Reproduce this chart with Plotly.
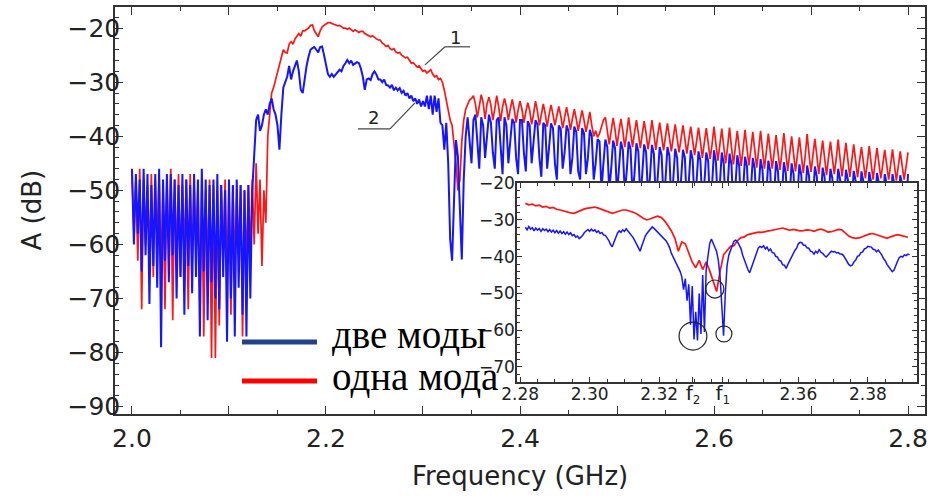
import numpy as np
import plotly.graph_objects as go

# ---------------- main spectrum data (GHz grid start/step, values in dB) -------------
MAIN_F_START = 2.0
MAIN_F_STEP = 0.002

blue_main = [
    -46,-60,-47,-58,-48,-65,-46,-62,-47,-71,
    -49,-64,-47,-68,-46,-79,-48,-63,-47,-67,
    -47,-62,-48,-70,-49,-66,-47,-73,-48,-64,
    -49,-69,-47,-66,-48,-77,-46,-65,-48,-74,
    -49,-67,-48,-70,-47,-72,-49,-66,-50,-78,
    -48,-70,-49,-77,-48,-68,-49,-73,-50,-77,
    -49,-70,-50,-44,-37,-36,-39,-38,-36,-35,
    -36,-34,-33,-35,-36,-38,-42.5,-36,-31,-30,
    -29,-27,-29.5,-28,-27,-26,-28,-31.4,-32,-29,
    -27,-25.3,-24,-23.7,-23.5,-24,-24.5,-23.5,-23.4,-25,
    -26.5,-28.5,-29,-28.5,-29,-28.5,-28,-27.7,-28,-27,
    -26.5,-25.9,-26.5,-26,-26.8,-26.5,-26.3,-26.5,-27.5,-29,
    -31.4,-29.5,-29.3,-29.6,-28.5,-28,-28.6,-29.5,-29.5,-30,
    -29.5,-30.5,-30.6,-31,-30.5,-31.5,-31,-31.5,-31.1,-32,
    -31.6,-32.5,-32,-33,-32.5,-33.5,-33,-34,-33.2,-34.5,
    -33.5,-34.5,-32.5,-35,-32.5,-36,-32.5,-35.5,-33,-37.5,
    -38,-42.5,-37.5,-45,-59,-63,-50,-40.7,-43.8,-55,
    -62.8,-48,-40,-36.5,-41,-45,-37,-36,-41,-46,
    -36.5,-38,-44,-40,-36,-37.5,-43,-46,-37,-36.5,
    -42,-47,-36.5,-38,-45,-40,-36.8,-37.5,-44,-47,
    -37,-37,-43,-46.5,-37.2,-38,-45,-41,-37,-37.8,
    -44,-47.5,-37.5,-38,-46,-42,-37.6,-38.5,-45,-48,
    -38,-38.6,-46,-43,-38,-39,-47,-44,-38.2,-39.2,
    -46.5,-48,-38.5,-39.5,-47,-44,-38.8,-40,-48,-45,
    -40.5,-41,-50,-45,-40.6,-42,-50,-46,-40.8,-42.2,
    -51,-46,-41,-42.5,-50.5,-46.5,-41,-42.4,-51,-47,
    -41.3,-42.8,-51.5,-47,-41.5,-43,-51,-47.5,-41.6,-43.2,
    -52,-47.5,-42,-43.5,-52,-48,-42,-43.6,-52.5,-48,
    -42.3,-44,-52,-48.2,-42.5,-44,-53,-48.5,-42.6,-44.3,
    -53,-48.5,-42.8,-44.5,-53,-49,-43,-44.6,-53.5,-49,
    -42.6,-44.8,-53,-49,-43,-45,-53.5,-49.5,-43.2,-45.2,
    -54,-49.5,-43.5,-45.5,-54,-50,-43.8,-45.6,-54,-50,
    -44,-46,-54.5,-50,-44.2,-46.2,-54,-50.5,-44.5,-46.5,
    -55,-50.5,-44.6,-46.6,-55,-51,-44.8,-46.8,-55,-51,
    -45,-47,-55.5,-51,-45.2,-47.2,-55,-51.5,-45.4,-47.4,
    -56,-51.5,-45.6,-47.5,-56,-52,-45.8,-47.6,-56,-52,
    -46,-47.8,-56.5,-52,-46,-48,-56,-52.5,-46.2,-48,
    -57,-52.5,-46.4,-48.2,-57,-53,-46.5,-48.4,-57,-53,
    -46.6,-48.5,-57.5,-53,-46.8,-48.6,-57,-53.5,-47,-48.8,
    -58,-53.5,-47,-49,-58,-54,-47.2,-49,-58,-54,
    -47,
]

red_main = [
    -47,-58,-48,-63,-46,-72,-48,-60,-49,-62,
    -47,-66,-48,-60,-47,-65,-49,-72,-48,-61,
    -46,-74,-48,-63,-47,-66,-49,-61,-48,-72,
    -47,-64,-48,-62,-49,-71,-48,-77,-50,-64,
    -48,-81,-49,-81,-50,-75,-49,-63,-48,-66,
    -50,-73,-49,-64,-50,-62,-49,-77,-50,-64,
    -49,-62,-48,-60,-45,-58,-48,-64,-50,-56,
    -40,-36,-32,-31,-29.5,-28.5,-27,-25.5,-24,-24.5,
    -24.6,-23,-22.5,-23,-22,-21.5,-21,-21.5,-20.5,-20.5,
    -20.2,-20,-19.5,-19.4,-20.5,-21,-21.6,-20.5,-19.8,-19.5,
    -19.2,-19,-19,-19.2,-19.3,-19.4,-19.6,-19.5,-19.8,-20,
    -20,-20.2,-20,-20.4,-20.6,-20.3,-20.5,-20.8,-20.6,-20.6,
    -21,-21.2,-21.4,-21.6,-21.4,-21.8,-22,-22.2,-22.2,-22.8,
    -23,-23.4,-23.2,-23.8,-24,-23.8,-24.4,-24.6,-24.5,-25,
    -25.3,-25.5,-25.4,-26,-26.5,-26.4,-26.8,-27.2,-27,-27.6,
    -28,-27.8,-28.3,-28,-27.7,-28.5,-29,-28.8,-29.5,-29.3,
    -30,-31.5,-33.5,-35,-37,-38,-41,-45,-50,-48,
    -41,-37,-35,-34,-33.3,-33,-32.5,-34,-36.5,-34.5,
    -32.3,-33.8,-36.8,-34,-32.8,-34.2,-37,-35,-32.5,-34.5,
    -37.2,-34.6,-33,-34.5,-37,-35,-33.2,-35,-37.5,-35.2,
    -33.5,-35,-37.5,-35.5,-33.8,-35.2,-37.8,-35.8,-33.5,-35.4,
    -38,-36,-34,-35.8,-38.2,-36,-34.2,-36,-38,-36.2,
    -34.5,-36.2,-38.5,-36.5,-34.6,-36.5,-38.8,-36.8,-35,-36.8,
    -39,-37,-35.2,-37,-39.2,-37.5,-35.5,-38,-40,-39,
    -40.2,-39.5,-38,-37,-36.5,-39,-41.5,-39,-36.6,-38.8,
    -41.8,-39.2,-36.8,-39,-42,-39.5,-36.5,-39.2,-42,-39.4,
    -37,-39.4,-42.2,-39.6,-37.2,-39.5,-42.4,-40,-37,-39.6,
    -42.5,-39.8,-37.5,-40,-42.6,-40,-37.6,-40.2,-42.8,-40.2,
    -37.8,-40.4,-43,-40.5,-38,-40.5,-43.2,-40.6,-38.2,-40.8,
    -43.5,-41,-38.4,-41,-44,-41.2,-38.5,-41.2,-44.2,-41.5,
    -38.2,-41.5,-44.5,-41.6,-38.6,-41.8,-45,-42,-38.4,-42,
    -45.2,-42,-39,-42.2,-45.5,-42.3,-38.8,-42.2,-45.4,-42.4,
    -39.2,-42.5,-45.8,-42.6,-39,-42.5,-46,-42.8,-39.5,-42.8,
    -46,-43,-39.8,-43,-46.2,-43,-39.4,-43,-46.4,-43.2,
    -40,-43.2,-46.5,-43.4,-40.2,-43.5,-46.8,-43.6,-39.6,-43.4,
    -46.6,-43.5,-40.5,-43.6,-47,-43.8,-40.8,-44,-47.2,-44,
    -41,-44,-47,-44.2,-40.6,-44.2,-47.4,-44.2,-41.2,-44.4,
    -47.5,-44.5,-41.5,-44.5,-47.6,-44.6,-42,-44.8,-47.8,-45,
    -41.8,-45,-48,-45,-42.2,-45,-47.8,-45.2,-42.5,-45.2,
    -48,-45.4,-42.4,-45.4,-48.2,-45.5,-42.8,-45.5,-48,-45.6,
    -43,
]

# ---------------- inset data -------------
INSET_RED_START = 2.2815
INSET_RED_STEP = 0.001
red_inset = [
    -25.5,-25.9,-25.7,-26.2,-26.0,-26.5,-26.3,-26.8,-26.6,-27.1,
    -27.3,-27.6,-27.9,-28.1,-28.2,-27.8,-27.3,-27.0,-26.8,-26.6,
    -26.5,-26.8,-27.2,-27.5,-27.8,-28.2,-27.9,-27.5,-27.3,-27.3,
    -27.5,-27.9,-28.3,-29.0,-29.6,-30.0,-29.6,-29.2,-29.0,-29.3,
    -30.2,-31.5,-33.0,-35.0,-38.5,-36.0,-36.5,-39.0,-41.5,-43.0,
    -41.0,-43.5,-41.5,-43.8,-46.5,-49.5,-44.0,-39.5,-38.3,-37.2,
    -37.0,-35.6,-34.8,-34.6,-34.0,-33.8,-33.6,-33.3,-33.4,-33.1,
    -33.0,-32.8,-32.6,-32.3,-32.2,-32.5,-32.8,-32.6,-32.9,-33.0,
    -32.9,-32.7,-32.8,-33.1,-32.7,-32.5,-32.8,-33.3,-33.2,-32.9,
    -32.6,-32.7,-33.5,-34.4,-34.8,-35.0,-34.9,-34.5,-34.0,-33.8,
    -33.7,-34.0,-34.5,-34.8,-35.0,-34.6,-34.2,-34.0,-34.2,-34.5,-34.7,
]

INSET_BLUE_START = 2.2815
INSET_BLUE_STEP = 0.0005
blue_inset = [
    -32.0,-32.7,-31.8,-32.5,-32.1,-33.0,-32.2,-32.8,-32.3,-33.1,
    -32.4,-32.9,-32.5,-33.2,-32.6,-33.3,-32.8,-33.5,-32.9,-33.6,
    -33.0,-33.7,-33.2,-33.9,-33.3,-34.0,-33.5,-34.3,-34.0,-34.7,
    -34.4,-35.1,-34.7,-34.2,-33.4,-33.1,-32.6,-33.1,-32.5,-33.0,
    -32.7,-33.4,-33.0,-33.7,-33.4,-34.1,-34.2,-34.9,-35.6,-36.7,
    -37.3,-36.0,-34.6,-33.6,-33.0,-33.4,-32.7,-33.1,-32.4,-33.0,
    -33.3,-34.1,-34.8,-35.7,-36.6,-37.9,-38.5,-37.0,-35.6,-34.4,
    -33.6,-33.0,-32.4,-31.9,-32.3,-32.8,-33.3,-33.8,-34.3,-34.8,
    -35.3,-35.7,-36.6,-37.6,-39.1,-40.0,-41.3,-42.0,-42.9,-44.0,
    -45.5,-49.0,-46.0,-52.0,-47.5,-58.5,-48.0,-62.5,-55.0,-62.8,
    -50.0,-61.0,-45.0,-60.5,-43.5,-40.0,-36.5,-35.2,-36.4,-37.6,
    -38.6,-41.0,-45.5,-53.5,-61.5,-50.0,-42.5,-39.6,-38.0,-37.0,
    -35.8,-35.5,-35.9,-36.8,-37.8,-39.6,-41.0,-42.7,-43.5,-44.4,
    -43.0,-41.4,-40.0,-39.0,-37.6,-37.2,-37.5,-37.0,-37.9,-37.4,
    -38.4,-37.9,-38.9,-39.0,-39.9,-40.1,-41.0,-41.2,-42.2,-42.3,
    -43.2,-42.1,-41.1,-40.1,-39.3,-38.3,-37.7,-36.5,-36.1,-36.2,
    -36.9,-36.9,-37.6,-37.7,-38.5,-38.7,-39.3,-38.5,-39.0,-38.1,
    -38.8,-39.1,-39.7,-40.1,-39.6,-38.9,-38.5,-38.7,-38.6,-39.0,
    -38.9,-39.3,-39.3,-39.7,-40.6,-41.1,-42.1,-42.5,-42.3,-41.4,
    -40.9,-39.9,-39.7,-38.9,-38.7,-37.9,-37.7,-37.2,-37.2,-37.4,
    -38.0,-38.1,-38.7,-38.2,-38.9,-39.5,-40.5,-41.1,-42.1,-42.7,
    -43.6,-44.1,-43.7,-42.3,-41.3,-40.3,-39.9,-40.1,-39.5,-39.7,
    -39.3,-39.5,
]

# tick labels
main_x_ticks = [2.0, 2.1, 2.2, 2.3, 2.4, 2.5, 2.6, 2.7, 2.8]
main_x_labels = ["2.0", "", "2.2", "", "2.4", "", "2.6", "", "2.8"]
main_y_ticks = [-90, -80, -70, -60, -50, -40, -30, -20]
inset_x_ticks = [2.28, 2.30, 2.32, 2.3297, 2.3383, 2.36, 2.38]
inset_x_labels = ["2.28", "2.30", "2.32",
                  "<span style='font-size:20px'>f</span><sub>2</sub>",
                  "<span style='font-size:20px'>f</span><sub>1</sub>", "2.36", "2.38"]
inset_y_ticks = [-70, -60, -50, -40, -30, -20]
legend_labels = ["две моды", "одна мода"]

RED = "#ff1515"
BLUE = "#1515ff"
FRAME = "#333333"
TXT = "#222222"
FONT = "DejaVu Sans"


def grid(start, step, n):
    return start + step * np.arange(n)


fig = go.Figure()
fig.add_trace(go.Scatter(x=grid(MAIN_F_START, MAIN_F_STEP, len(red_main)), y=red_main,
                         mode="lines", line=dict(color=RED, width=1.7), showlegend=False))
fig.add_trace(go.Scatter(x=grid(MAIN_F_START, MAIN_F_STEP, len(blue_main)), y=blue_main,
                         mode="lines", line=dict(color=BLUE, width=2.0), showlegend=False))
fig.add_trace(go.Scatter(x=grid(INSET_RED_START, INSET_RED_STEP, len(red_inset)), y=red_inset,
                         mode="lines", line=dict(color=RED, width=1.7), showlegend=False,
                         xaxis="x2", yaxis="y2"))
fig.add_trace(go.Scatter(x=grid(INSET_BLUE_START, INSET_BLUE_STEP, len(blue_inset)), y=blue_inset,
                         mode="lines", line=dict(color=BLUE, width=1.5), showlegend=False,
                         xaxis="x2", yaxis="y2"))

axis_common = dict(showline=True, linecolor=FRAME, linewidth=1.5, mirror="ticks",
                   ticks="inside", tickcolor=FRAME, showgrid=False, zeroline=False,
                   automargin=False)

fig.update_layout(
    width=932, height=496, autosize=False,
    margin=dict(l=115, r=7, t=7, b=82, autoexpand=False),
    paper_bgcolor="white", plot_bgcolor="white",
    showlegend=False,
    xaxis=dict(**axis_common, range=[1.9825, 2.8175], tickmode="array",
               tickvals=main_x_ticks, ticktext=main_x_labels, ticklen=8, tickwidth=1.3,
               tickfont=dict(family=FONT, size=25, color=TXT), ticklabelstandoff=1,
               minor=dict(dtick=0.05, tick0=2.0, ticks="inside", ticklen=4, tickcolor=FRAME)),
    yaxis=dict(**axis_common, range=[-91.35, -16.1], tickmode="array",
               tickvals=main_y_ticks, ticklen=8, tickwidth=1.3,
               tickfont=dict(family=FONT, size=25, color=TXT), ticklabelstandoff=-12,
               minor=dict(dtick=2, tick0=-90, ticks="inside", ticklen=4, tickcolor=FRAME)),
    xaxis2=dict(**axis_common, domain=[0.4963, 0.990], anchor="y2", range=[2.2791, 2.3941],
                tickmode="array", tickvals=inset_x_ticks, ticktext=inset_x_labels,
                ticklen=5, tickfont=dict(family=FONT, size=17, color=TXT), ticklabelstandoff=-4,
                minor=dict(dtick=0.005, tick0=2.28, ticks="inside", ticklen=3, tickcolor=FRAME)),
    yaxis2=dict(**axis_common, domain=[0.0786, 0.5676], anchor="x2", range=[-74.1, -19.95],
                tickmode="array", tickvals=inset_y_ticks, ticklen=5,
                tickfont=dict(family=FONT, size=17, color=TXT), ticklabelstandoff=-3,
                minor=dict(dtick=2, tick0=-70, ticks="inside", ticklen=3, tickcolor=FRAME)),
)

annotations = [
    dict(text="A (dB)", xref="paper", yref="paper", x=-0.1037, y=0.5, textangle=-90,
         showarrow=False, xanchor="center", yanchor="middle",
         font=dict(family=FONT, size=26, color=TXT)),
    dict(text="Frequency (GHz)", xref="paper", yref="paper", x=0.5, y=-0.152,
         showarrow=False, xanchor="center", yanchor="middle",
         font=dict(family=FONT, size=26, color=TXT)),
    dict(text="1", xref="x", yref="y", x=2.333, y=-21.8, showarrow=False,
         font=dict(family=FONT, size=18, color=TXT)),
    dict(text="2", xref="x", yref="y", x=2.2485, y=-36.6, showarrow=False,
         font=dict(family=FONT, size=18, color=TXT)),
    dict(text=legend_labels[0], xref="paper", yref="paper", x=0.2654, y=0.196,
         showarrow=False, xanchor="left", yanchor="middle",
         font=dict(family="Liberation Serif", size=39, color="black")),
    dict(text=legend_labels[1], xref="paper", yref="paper", x=0.2654, y=0.093,
         showarrow=False, xanchor="left", yanchor="middle",
         font=dict(family="Liberation Serif", size=39, color="black")),
]
fig.update_layout(annotations=annotations)

lead = dict(color="#444444", width=1.2)
shapes = [
    # leader lines for curve labels
    dict(type="line", xref="x", yref="y", x0=2.302, y0=-26.8, x1=2.3227, y1=-23.46, line=lead),
    dict(type="line", xref="x", yref="y", x0=2.3227, y0=-23.46, x1=2.3485, y1=-23.46, line=lead),
    dict(type="line", xref="x", yref="y", x0=2.233, y0=-38.63, x1=2.266, y1=-38.63, line=lead),
    dict(type="line", xref="x", yref="y", x0=2.266, y0=-38.63, x1=2.2918, y1=-33.82, line=lead),
    # circles in inset
    dict(type="circle", xref="x2", yref="y2", x0=2.3257, x1=2.3337, y0=-65.4, y1=-57.8,
         line=dict(color="#222222", width=1.2)),
    dict(type="circle", xref="x2", yref="y2", x0=2.3363, x1=2.3409, y0=-63.2, y1=-58.8,
         line=dict(color="#222222", width=1.2)),
    dict(type="circle", xref="x2", yref="y2", x0=2.3334, x1=2.3386, y0=-51.25, y1=-46.35,
         line=dict(color="#222222", width=1.2)),
    # legend swatches
    dict(type="line", xref="paper", yref="paper", x0=0.1568, x1=0.2494, y0=0.1769, y1=0.1769,
         line=dict(color="#23418b", width=5)),
    dict(type="line", xref="paper", yref="paper", x0=0.1568, x1=0.2494, y0=0.0811, y1=0.0811,
         line=dict(color="#ff0000", width=5)),
]
fig.update_layout(shapes=shapes)

fig.write_html("out.html")
